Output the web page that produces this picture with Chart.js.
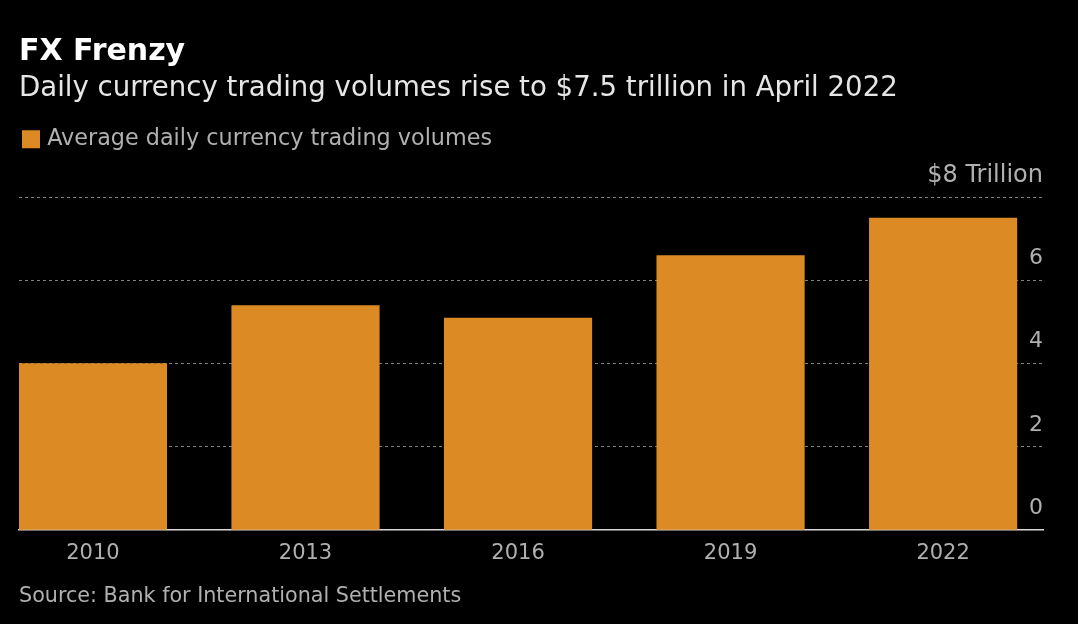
<!DOCTYPE html>
<html lang="en">
  <head>
    <meta charset="UTF-8" />
    <title>FX Frenzy</title>
    <script src="https://cdn.jsdelivr.net/npm/chart.js@4.5.0/dist/chart.umd.min.js"></script>
    <style>
      html, body { margin: 0; background: #000; overflow: hidden; }
      canvas { display: block; }
    </style>
  </head>
  <body>
    <canvas id="myChart" width="1078" height="624"></canvas>

    <script>
      const years = [2010, 2013, 2016, 2019, 2022];
      const volumes = [4.0, 5.4, 5.1, 6.6, 7.5];
      const yTicks = [0, 2, 4, 6, 8];

      const seriesName = "Average daily currency trading volumes";
      const titleText = "FX Frenzy";
      const subtitleText = "Daily currency trading volumes rise to $7.5 trillion in April 2022";
      const sourceText = "Source: Bank for International Settlements";

      const fontName = "'DejaVu Sans'";
      const orange = "#dc8a24";
      const gray = "#b0b0b0";

      // leaves room between the legend and the top of the plot
      const legendGap = {
        id: "legendGap",
        beforeInit(chart) {
          const fit = chart.legend.fit;
          chart.legend.fit = function () {
            fit.call(this);
            this.height += 37;
          };
        },
      };

      new Chart(document.getElementById("myChart"), {
        type: "bar",
        data: {
          datasets: [
            {
              label: seriesName,
              data: years.map((year, i) => ({ x: year, y: volumes[i] })),
              backgroundColor: orange,
              barThickness: 147.5,
            },
          ],
        },
        plugins: [legendGap],
        options: {
          responsive: false,
          animation: false,
          layout: { padding: { left: 19, right: 35, top: 34, bottom: 15 } },
          plugins: {
            tooltip: { enabled: false },
            title: {
              display: true,
              text: titleText,
              align: "start",
              color: "#ffffff",
              font: { family: fontName, size: 30, weight: "bold" },
              padding: { top: 0, bottom: 2 },
            },
            subtitle: {
              display: true,
              text: subtitleText,
              align: "start",
              color: "#e6e6e6",
              font: { family: fontName, size: 27.6 },
              padding: { top: 0, bottom: 16 },
            },
            legend: {
              align: "start",
              labels: {
                color: gray,
                boxWidth: 10,
                boxHeight: 10,
                padding: 7,
                font: { family: fontName, size: 22.3 },
                // thick outline makes a bigger square without pushing the text away
                generateLabels: (chart) =>
                  Chart.defaults.plugins.legend.labels.generateLabels(chart).map((item) => ({
                    ...item,
                    strokeStyle: orange,
                    lineWidth: 8,
                    lineJoin: "miter",
                  })),
              },
            },
          },
          scales: {
            x: {
              type: "linear",
              offset: false,
              bounds: "data",
              min: 2008.956,
              max: 2023.41,
              afterBuildTicks: (axis) => {
                axis.ticks = years.map((value) => ({ value }));
              },
              grid: { display: false },
              border: { color: "#d8d8d8", width: 1.5 },
              ticks: {
                maxRotation: 0,
                color: gray,
                padding: 3,
                font: { family: fontName, size: 21 },
                callback: (value) => String(value),
              },
              title: {
                display: true,
                text: sourceText,
                align: "start",
                color: gray,
                padding: { top: 15, bottom: 0 },
                font: { family: fontName, size: 20.7 },
              },
            },
            y: {
              position: "right",
              min: 0,
              max: 8,
              afterBuildTicks: (axis) => {
                axis.ticks = yTicks.map((value) => ({ value }));
              },
              border: { display: false, dash: [3, 3] },
              grid: {
                drawTicks: false,
                color: (c) => (c.tick.value === 0 ? "rgba(0,0,0,0)" : "#808080"),
              },
              ticks: {
                mirror: true,
                padding: 0,
                labelOffset: -22,
                color: gray,
                font: (c) => ({ family: fontName, size: c.tick && c.tick.value === 8 ? 24 : 22 }),
                callback: (value) => (value === 8 ? "$8 Trillion" : String(value)),
              },
            },
          },
        },
      });
    </script>
  </body>
</html>
